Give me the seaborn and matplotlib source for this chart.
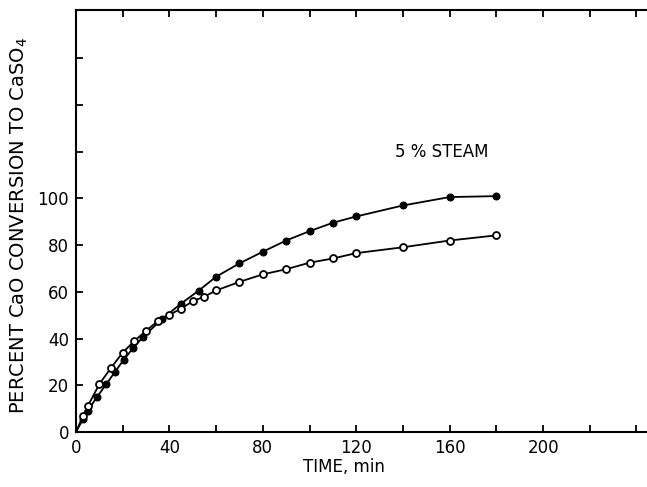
import matplotlib
matplotlib.use("Agg")
import matplotlib.pyplot as plt
import seaborn as sns
import pandas as pd

# 5 % steam (filled circles)
steam_t = [0, 3, 5, 9, 13, 16.5, 20.5, 24.5, 28.5, 37, 45, 52.5, 60, 70, 80, 90, 100, 110, 120, 140, 160, 180]
steam_v = [0, 5.5, 9, 15, 20.5, 25.5, 31, 36, 40.5, 48.5, 55, 60.5, 66.5, 72.2, 77.2, 82, 86, 89.6, 92.3, 97, 100.6, 101]

# without steam (open circles)
dry_t = [0, 3, 5, 10, 15, 20, 25, 30, 35, 40, 45, 50, 55, 60, 70, 80, 90, 100, 110, 120, 140, 160, 180]
dry_v = [0, 7, 11, 20.5, 27.5, 34, 39, 43.3, 47.5, 50.2, 52.8, 56, 58, 60.6, 64.3, 67.5, 69.7, 72.5, 74.3, 76.6, 79.1, 82, 84.2]

x_ticks = [0, 20, 40, 60, 80, 100, 120, 140, 160, 180, 200, 220, 240]
x_labels = ["0", "", "40", "", "80", "", "120", "", "160", "", "200", "", ""]
y_ticks = [0, 20, 40, 60, 80, 100, 120, 140, 160]
y_labels = ["0", "20", "40", "60", "80", "100", "", "", ""]

sns.set_style("ticks")
plt.rcParams["font.family"] = ["DejaVu Sans"]
plt.rcParams["text.color"] = "black"
plt.rcParams["axes.labelcolor"] = "black"

fig = plt.figure(figsize=(6.47, 4.87), dpi=100)
ax = fig.add_axes([76 / 647, 1 - 432 / 487, (647 - 76) / 647, (432 - 10) / 487])

df_s = pd.DataFrame({"t": steam_t, "v": steam_v})
df_d = pd.DataFrame({"t": dry_t, "v": dry_v})

sns.lineplot(data=df_s, x="t", y="v", ax=ax, color="black", lw=1.3,
             marker="o", markersize=5, markerfacecolor="black",
             markeredgecolor="black", markevery=list(range(1, len(steam_t))),
             sort=False)
sns.lineplot(data=df_d, x="t", y="v", ax=ax, color="black", lw=1.3,
             marker="o", markersize=5, markerfacecolor="white",
             markeredgecolor="black", markeredgewidth=1.3,
             markevery=list(range(1, len(dry_t))), sort=False)

ax.set_xlim(0, 244.5)
ax.set_ylim(0, 180.7)
ax.set_xticks(x_ticks)
ax.set_xticklabels(x_labels)
ax.set_yticks(y_ticks)
ax.set_yticklabels(y_labels)
ax.tick_params(direction="in", length=5, width=1.3, top=True, right=False,
               labelsize=12, colors="black", pad=5)

for s in ["left", "bottom", "top"]:
    ax.spines[s].set_visible(True)
    ax.spines[s].set_linewidth(1.5)
    ax.spines[s].set_color("black")
ax.spines["right"].set_visible(False)

ax.set_xlabel("TIME, min", fontsize=12, color="black")
ax.xaxis.set_label_coords(0.469, -0.062)
ax.set_ylabel("PERCENT CaO CONVERSION TO CaSO$_4$", fontsize=14, color="black")
ax.yaxis.set_label_coords(-0.08, 0.49)

ax.text(156.5, 119.7, "5 % STEAM", fontsize=12, ha="center", va="center",
        color="black")

fig.savefig("out.png", dpi=100)
